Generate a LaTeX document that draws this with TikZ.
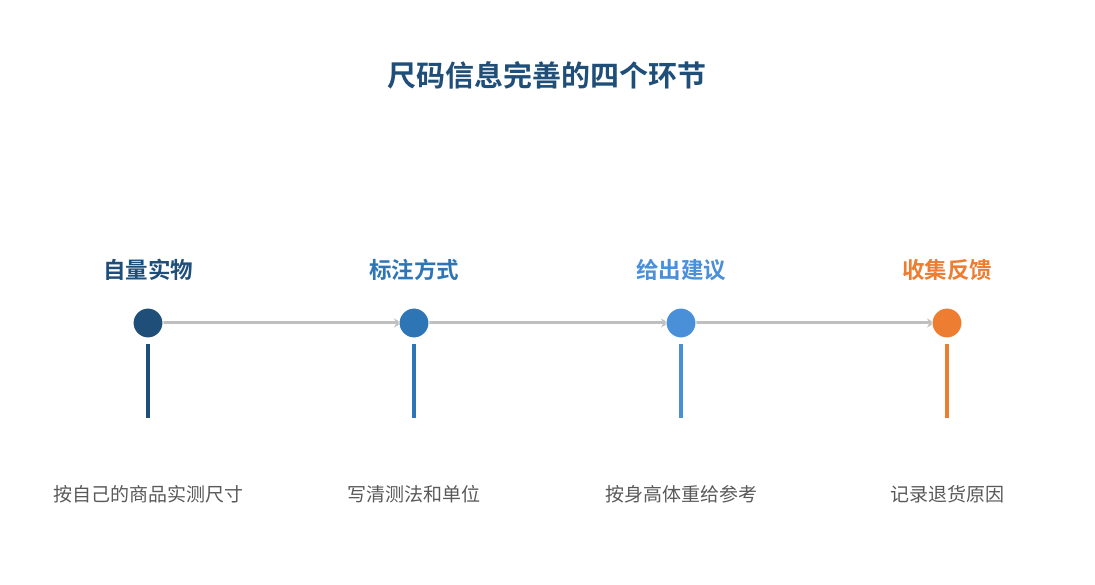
\documentclass[tikz,border=0pt]{standalone}
\usepackage{fontspec}
\newfontfamily\cjk{Noto Sans CJK SC}
\newfontfamily\cjkb{Noto Sans CJK SC Bold}
\usetikzlibrary{arrows.meta}
\definecolor{cA}{HTML}{1F4E79}
\definecolor{cB}{HTML}{2E75B6}
\definecolor{cC}{HTML}{4A90D9}
\definecolor{cD}{HTML}{ED7D31}
\definecolor{lineg}{HTML}{BFBFBF}
\definecolor{txtg}{HTML}{595959}
\tikzset{
  dot/.style={circle, fill=#1, draw=white, line width=1pt, minimum size=30pt, inner sep=0pt},
  stagelbl/.style={text=#1, font=\cjkb\fontsize{22.5}{26}\selectfont, inner sep=0pt},
  desc/.style={text=txtg, font=\cjk\fontsize{19}{23}\selectfont, inner sep=0pt},
  conn/.style={draw=lineg, line width=3pt, -{Stealth[length=8pt,width=9pt]}},
  stem/.style={draw=#1, line width=4pt}
}
\begin{document}
\begin{tikzpicture}[x=1pt,y=-1pt]
\useasboundingbox (0,0) rectangle (1095,585);
\node[text=cA, font=\cjkb\fontsize{29}{34}\selectfont, inner sep=0pt] (title) at (547,75) {尺码信息完善的四个环节};
% circles
\coordinate (p1) at (148,323);
\coordinate (p2) at (414,323);
\coordinate (p3) at (681,323);
\coordinate (p4) at (947,323);
\draw[conn] (p1) -- ([xshift=-12pt]p2);
\draw[conn] (p2) -- ([xshift=-12pt]p3);
\draw[conn] (p3) -- ([xshift=-12pt]p4);
\node[dot=cA] (c1) at (p1) {};
\node[dot=cB] (c2) at (p2) {};
\node[dot=cC] (c3) at (p3) {};
\node[dot=cD] (c4) at (p4) {};
% stems
\coordinate (s1a) at (148,344); \coordinate (s1b) at (148,418);
\coordinate (s2a) at (414,344); \coordinate (s2b) at (414,418);
\coordinate (s3a) at (681,344); \coordinate (s3b) at (681,418);
\coordinate (s4a) at (947,344); \coordinate (s4b) at (947,418);
\draw[stem=cA] (s1a) -- (s1b);
\draw[stem=cB] (s2a) -- (s2b);
\draw[stem=cC] (s3a) -- (s3b);
\draw[stem=cD] (s4a) -- (s4b);
% labels
\node[stagelbl=cA] (l1) at (148,270) {自量实物};
\node[stagelbl=cB] (l2) at (414,270) {标注方式};
\node[stagelbl=cC] (l3) at (681,270) {给出建议};
\node[stagelbl=cD] (l4) at (947,270) {收集反馈};
% descriptions
\node[desc] (d1) at (148,494) {按自己的商品实测尺寸};
\node[desc] (d2) at (414,494) {写清测法和单位};
\node[desc] (d3) at (681,494) {按身高体重给参考};
\node[desc] (d4) at (947,494) {记录退货原因};
\end{tikzpicture}
\end{document}
